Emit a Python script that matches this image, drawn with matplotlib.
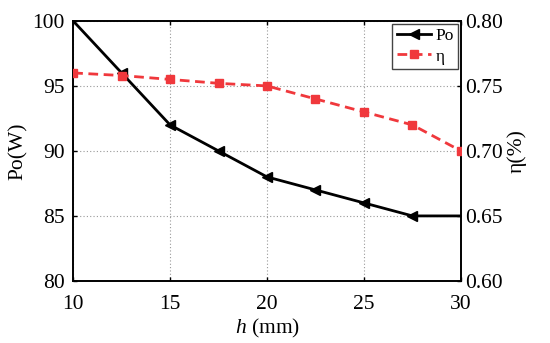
import matplotlib
matplotlib.use("Agg")
import matplotlib.pyplot as plt

h = [10, 12.5, 15, 17.5, 20, 22.5, 25, 27.5, 30]
po = [100, 96, 92, 90, 88, 87, 86, 85, 85]
eta = [0.76, 0.758, 0.755, 0.752, 0.75, 0.74, 0.73, 0.72, 0.70]

plt.rcParams['font.family'] = ['Liberation Serif', 'DejaVu Serif']
plt.rcParams['mathtext.fontset'] = 'custom'
plt.rcParams['mathtext.it'] = 'Liberation Serif:italic'
plt.rcParams['mathtext.rm'] = 'Liberation Serif'

fig = plt.figure(figsize=(5.5, 3.43), dpi=100)
ax = fig.add_axes([0.133, 0.181, 0.705, 0.758])
ax2 = ax.twinx()

red = '#f0383c'
l1, = ax.plot(h, po, color='black', lw=2.0, marker='<', ms=7, markevery=list(range(1, len(h) - 1)), label='Po', zorder=3)
l2, = ax2.plot(h, eta, color=red, lw=2.0, ls=(0, (3.5, 2)), marker='s', ms=6, label='η', zorder=3)

ax.set_xlim(10, 30)
ax.set_ylim(80, 100)
ax2.set_ylim(0.60, 0.80)
ax.set_xticks([10, 15, 20, 25, 30])
ax.set_yticks([80, 85, 90, 95, 100])
ax2.set_yticks([0.60, 0.65, 0.70, 0.75, 0.80])
ax2.set_yticklabels(['0.60', '0.65', '0.70', '0.75', '0.80'])

ax.grid(True, color='#999999', ls=(0, (1, 2)), lw=0.8)
for a in (ax, ax2):
    a.tick_params(direction='in', length=3, labelsize=15.5, width=1)
    for s in a.spines.values():
        s.set_linewidth(1.2)
ax.tick_params(axis='x', top=True, pad=10)
ax.tick_params(axis='y', pad=6)
ax2.tick_params(axis='y', pad=3)

ax.set_xlabel('$h$ (mm)', fontsize=15.5, labelpad=2)
ax.set_ylabel('Po(W)', fontsize=15.5, labelpad=3)
ax2.set_ylabel('η(%)', fontsize=15.5, labelpad=3, rotation=90)

leg = ax2.legend([l1, l2], ['Po', 'η'], loc='upper right', fontsize=12.5, frameon=True,
                 fancybox=False, edgecolor='#444444', framealpha=1, handlelength=2.0,
                 borderpad=0.25, labelspacing=0.25, handletextpad=0.25, borderaxespad=0.15)
leg.get_frame().set_linewidth(1.0)

fig.savefig('out.png', dpi=100)
